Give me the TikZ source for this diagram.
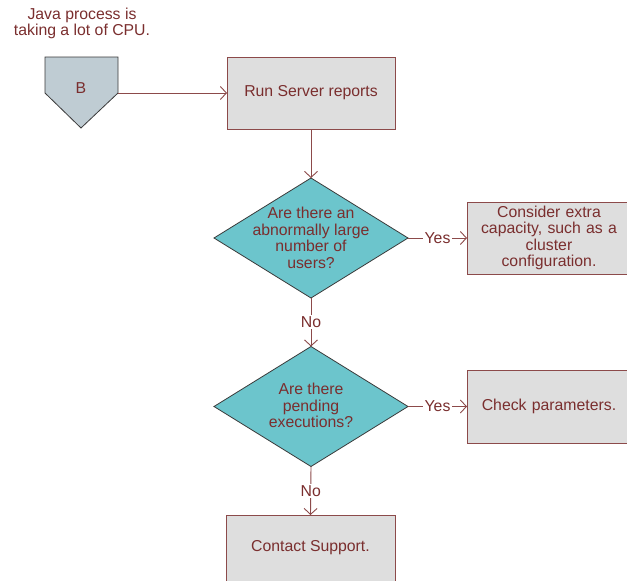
\documentclass[tikz,border=0pt]{standalone}
\usepackage{fontspec}
\setmainfont{Liberation Sans}
\usetikzlibrary{shapes.geometric,arrows.meta}
\definecolor{txt}{HTML}{7A2E2E}
\definecolor{edge}{HTML}{8C4A4A}
\definecolor{boxfill}{HTML}{DEDEDE}
\definecolor{teal}{HTML}{6CC5CC}
\definecolor{pent}{HTML}{BFCCD3}
\definecolor{dark}{HTML}{3A3A3A}
\begin{document}
\begin{tikzpicture}[x=1pt,y=-1pt,
  every node/.style={text=txt,font=\fontsize{15.8}{16.6}\selectfont},
  procbox/.style={draw=edge,fill=boxfill,line width=0.9pt,inner sep=0pt,outer sep=0pt,align=center},
  decision/.style={diamond,draw=dark,fill=teal,line width=0.8pt,minimum width=194pt,minimum height=120pt,inner sep=0pt,outer sep=0pt},
  conn/.style={draw=edge,line width=0.9pt,-{Straight Barb[length=6pt,width=13pt,line width=0.9pt]}},
  lbl/.style={fill=white,inner sep=1.5pt}]
\useasboundingbox (0,0) rectangle (627,581);
\clip (0,0) rectangle (627,581);
% title
\node[align=center] (title) at (82,23.5) {Java process is\\taking a lot of CPU.};
% pentagon B
\draw[draw=dark,fill=pent,line width=0.8pt] (45,57) -- (118,57) -- (118,93) -- (81,128) -- (45,93) -- cycle;
\node (B) at (81,88) {B};
\coordinate (bR) at (118,93);
% boxes
\node[procbox,minimum width=168pt,minimum height=72pt] (run) at (311,93) {Run Server reports};
\node[procbox,minimum width=164pt,minimum height=72pt,text width=160pt] (extra) at (549,238) {Consider extra\\capacity, such as a\\cluster\\configuration.};
\node[procbox,minimum width=164pt,minimum height=73pt,text width=160pt] (check) at (549,406.5) {Check parameters.};
\node[procbox,minimum width=169pt,minimum height=80pt] (support) at (310.5,555) {};
\node at (310.5,548) {Contact Support.};
% diamonds
\node[decision] (d1) at (311,238) {};
\node[align=center] at (311,238) {Are there an\\abnormally large\\number of\\users?};
\node[decision] (d2) at (311,406.5) {};
\node[align=center] at (311,405.5) {Are there\\pending\\executions?};
% connectors
\draw[conn] (bR) -- (run.west |- bR);
\draw[conn] (run.south) -- (d1.north);
\draw[conn] (d1.east) -- node[lbl] {Yes} (extra.west);
\draw[conn] (d1.south) -- node[lbl] {No} (d2.north);
\draw[conn] (d2.east) -- node[lbl] {Yes} (check.west);
\draw[conn] (d2.south) -- node[lbl] {No} (support.north);
\end{tikzpicture}
\end{document}
